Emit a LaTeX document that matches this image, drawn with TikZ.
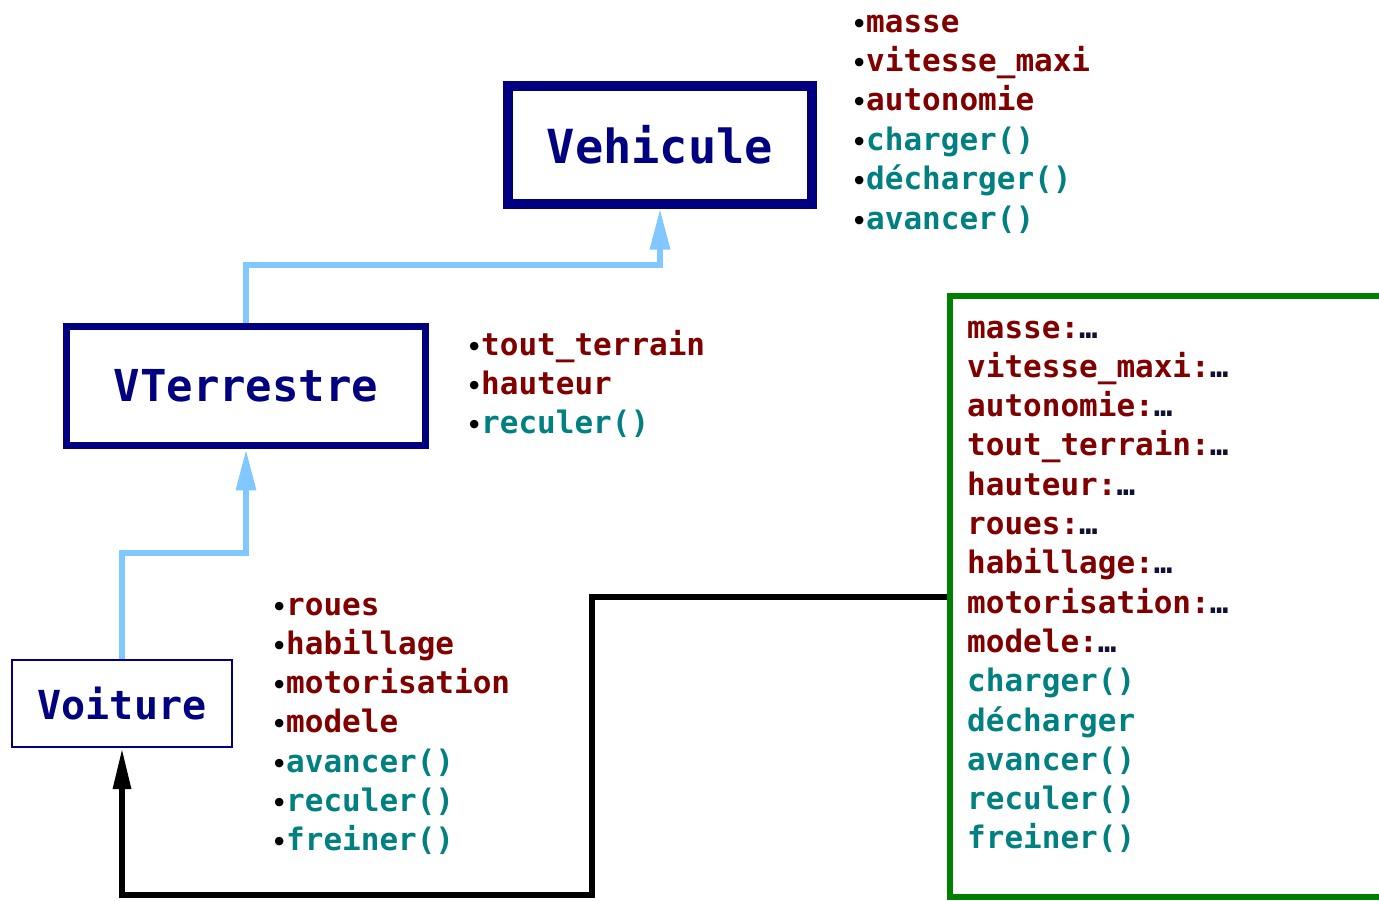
\documentclass[tikz,border=0pt]{standalone}
\usepackage{fontspec}
\setmainfont{DejaVu Sans}
\setmonofont{DejaVu Sans Mono}
\newfontfamily\bulfont{DejaVu Sans}
\usetikzlibrary{arrows.meta}

\definecolor{navyc}{HTML}{000080}
\definecolor{attrc}{HTML}{800000}
\definecolor{methc}{HTML}{008080}
\definecolor{greenc}{HTML}{008000}
\definecolor{linkc}{HTML}{80C8FF}
\definecolor{dotc}{HTML}{101030}

% bullet in front of each list item
\newcommand\bul{\makebox[14.6pt][l]{\color{black}\bulfont\fontsize{24}{24}\selectfont •}}
% "value to fill in" marker
\newcommand\ellip{\textcolor{dotc}{…}}

\tikzset{
  classbox/.style={draw=navyc, text=navyc, inner sep=0pt,
    font=\ttfamily\bfseries\fontsize{47}{47}\selectfont},
  item/.style={anchor=base west, inner sep=0pt,
    font=\ttfamily\bfseries\fontsize{31}{31}\selectfont},
  inherit/.style={draw=linkc, line width=6pt,
    -{Triangle[length=41pt,width=19pt]}},
  instof/.style={draw=black, line width=6pt,
    -{Triangle[length=41pt,width=17pt]}},
}

\begin{document}
\begin{tikzpicture}[x=1pt,y=-1pt]
\useasboundingbox (0,0) rectangle (1379,900);
\fill[white] (0,0) rectangle (1379,900);
\clip (0,0) rectangle (1379,900);

% classes
\node[classbox, line width=10pt, minimum width=304pt, minimum height=118pt]
  (vehicule) at (660,144.5) {Vehicule};
\node[classbox, line width=7pt, minimum width=359.5pt, minimum height=119.5pt,
  font=\ttfamily\bfseries\fontsize{44}{44}\selectfont]
  (vterr) at (246,386) {VTerrestre};
\node[classbox, line width=2pt, minimum width=220pt, minimum height=87pt,
  font=\ttfamily\bfseries\fontsize{40}{40}\selectfont]
  (voiture) at (122,703.5) {Voiture};

% instance (object) box
\node[draw=greenc, line width=6pt, minimum width=460pt, minimum height=601pt,
  inner sep=0pt] (instance) at (1180,596.5) {};

% members of Vehicule
\foreach \t/\c [count=\i from 0] in {masse/attrc, vitesse\_maxi/attrc,
    autonomie/attrc, charger()/methc, décharger()/methc, avancer()/methc}
  \node[item, text=\c] (veh-\i) at (851.4, 32+39.4*\i) {\bul\t};

% members of VTerrestre
\foreach \t/\c [count=\i from 0] in {tout\_terrain/attrc, hauteur/attrc,
    reculer()/methc}
  \node[item, text=\c] (vt-\i) at (466.4, 355+39*\i) {\bul\t};

% members of Voiture
\foreach \t/\c [count=\i from 0] in {roues/attrc, habillage/attrc,
    motorisation/attrc, modele/attrc, avancer()/methc, reculer()/methc,
    freiner()/methc}
  \node[item, text=\c] (vo-\i) at (271.4, 615+39.3*\i) {\bul\t};

% state of the object
\foreach \t/\c [count=\i from 0] in {masse:\ellip/attrc,
    vitesse\_maxi:\ellip/attrc, autonomie:\ellip/attrc,
    tout\_terrain:\ellip/attrc, hauteur:\ellip/attrc, roues:\ellip/attrc,
    habillage:\ellip/attrc, motorisation:\ellip/attrc, modele:\ellip/attrc,
    charger()/methc, décharger/methc, avancer()/methc, reculer()/methc,
    freiner()/methc}
  \node[item, text=\c] (obj-\i) at (967, 338+39.3*\i) {\t};

% inheritance links
\coordinate (jogA) at (400,265);
\coordinate (jogB) at (200,553);
\draw[inherit] (vterr.north) -- (vterr.north |- jogA)
  -- (vehicule.south |- jogA) -- (vehicule.south);
\draw[inherit] (voiture.north) -- (voiture.north |- jogB)
  -- (vterr.south |- jogB) -- (vterr.south);

% instance link
\coordinate (bendA) at (592,895);
\draw[instof] (instance.west) -- (instance.west -| bendA) -- (bendA)
  -- (bendA -| voiture.south) -- (voiture.south);
\end{tikzpicture}
\end{document}
